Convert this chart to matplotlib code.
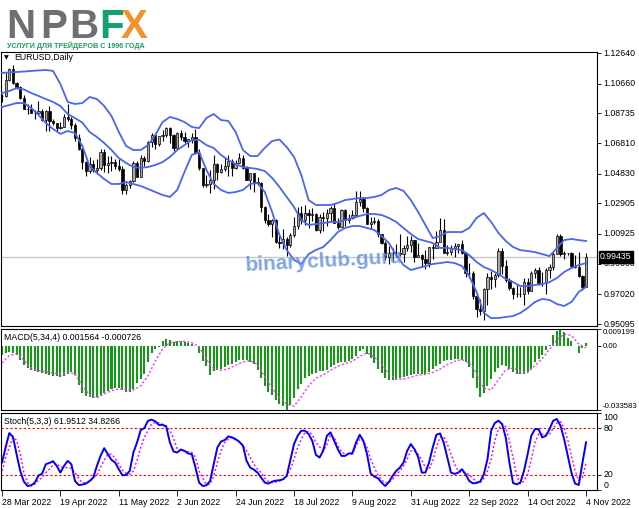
import matplotlib
matplotlib.use("Agg")  # no display in the sandbox
import matplotlib.pyplot as plt
import matplotlib.transforms as mtransforms
import numpy as np

plt.rcParams["font.family"] = ["Liberation Sans", "DejaVu Sans"]
FS = 6.3

# --- EURUSD daily candles, 28 Mar 2022 .. 4 Nov 2022 ---
OPEN = [
    1.0983, 1.0983, 1.1087, 1.1158, 1.1067, 1.1046, 1.0970, 1.0904,
    1.0901, 1.0878, 1.0877, 1.0887, 1.0829, 1.0891, 1.0827, 1.0809,
    1.0780, 1.0787, 1.0851, 1.0836, 1.0797, 1.0714, 1.0640, 1.0557,
    1.0498, 1.0545, 1.0504, 1.0521, 1.0620, 1.0541, 1.0551, 1.0561,
    1.0530, 1.0514, 1.0380, 1.0412, 1.0435, 1.0555, 1.0463, 1.0585,
    1.0563, 1.0689, 1.0735, 1.0677, 1.0725, 1.0733, 1.0780, 1.0733,
    1.0647, 1.0748, 1.0719, 1.0697, 1.0705, 1.0717, 1.0614, 1.0519,
    1.0409, 1.0416, 1.0443, 1.0545, 1.0495, 1.0512, 1.0532, 1.0567,
    1.0521, 1.0555, 1.0583, 1.0518, 1.0443, 1.0484, 1.0425, 1.0425,
    1.0265, 1.0184, 1.0160, 1.0184, 1.0038, 1.0036, 1.0062, 1.0019,
    1.0083, 1.0144, 1.0227, 1.0180, 1.0229, 1.0212, 1.0221, 1.0120,
    1.0200, 1.0196, 1.0225, 1.0260, 1.0164, 1.0140, 1.0247, 1.0182,
    1.0196, 1.0212, 1.0298, 1.0321, 1.0260, 1.0160, 1.0170, 1.0177,
    1.0089, 1.0037, 0.9941, 0.9966, 0.9970, 0.9972, 0.9965, 1.0003,
    1.0018, 1.0054, 0.9945, 0.9954, 0.9929, 0.9904, 1.0007, 1.0003,
    1.0042, 1.0121, 0.9969, 0.9977, 0.9999, 1.0017, 1.0027, 0.9970,
    0.9837, 0.9838, 0.9690, 0.9608, 0.9593, 0.9737, 0.9817, 0.9802,
    0.9824, 0.9985, 0.9884, 0.9792, 0.9741, 0.9702, 0.9703, 0.9706,
    0.9779, 0.9723, 0.9839, 0.9856, 0.9774, 0.9778, 0.9862, 0.9876,
    0.9965, 1.0079, 0.9965, 0.9966, 0.9966, 0.9884, 0.9876, 0.9819,
    0.9750,
]
HIGH = [
    1.1000, 1.1137, 1.1170, 1.1185, 1.1076, 1.1053, 1.0995, 1.0937,
    1.0936, 1.0893, 1.0953, 1.0900, 1.0898, 1.0923, 1.0838, 1.0814,
    1.0815, 1.0866, 1.0936, 1.0852, 1.0808, 1.0739, 1.0658, 1.0568,
    1.0592, 1.0573, 1.0575, 1.0642, 1.0641, 1.0600, 1.0594, 1.0581,
    1.0577, 1.0530, 1.0420, 1.0445, 1.0563, 1.0566, 1.0606, 1.0597,
    1.0697, 1.0749, 1.0737, 1.0729, 1.0765, 1.0787, 1.0786, 1.0738,
    1.0750, 1.0764, 1.0752, 1.0709, 1.0748, 1.0774, 1.0640, 1.0521,
    1.0471, 1.0505, 1.0601, 1.0554, 1.0545, 1.0583, 1.0605, 1.0578,
    1.0571, 1.0615, 1.0606, 1.0531, 1.0487, 1.0486, 1.0463, 1.0430,
    1.0276, 1.0223, 1.0188, 1.0188, 1.0097, 1.0122, 1.0070, 1.0097,
    1.0200, 1.0269, 1.0273, 1.0278, 1.0257, 1.0258, 1.0230, 1.0220,
    1.0235, 1.0254, 1.0274, 1.0293, 1.0196, 1.0254, 1.0253, 1.0223,
    1.0249, 1.0368, 1.0368, 1.0329, 1.0269, 1.0201, 1.0202, 1.0191,
    1.0095, 1.0047, 1.0017, 0.9999, 1.0029, 1.0090, 1.0019, 1.0079,
    1.0080, 1.0056, 1.0033, 0.9960, 0.9989, 1.0011, 1.0029, 1.0112,
    1.0198, 1.0187, 1.0019, 1.0018, 1.0037, 1.0028, 1.0051, 0.9976,
    0.9906, 0.9853, 0.9709, 0.9671, 0.9740, 0.9839, 0.9853, 0.9841,
    0.9999, 0.9999, 0.9921, 0.9808, 0.9748, 0.9759, 0.9746, 0.9808,
    0.9809, 0.9851, 0.9875, 0.9877, 0.9847, 0.9870, 0.9899, 0.9976,
    1.0094, 1.0089, 0.9979, 0.9972, 0.9977, 0.9954, 0.9976, 0.9828,
    0.9966,
]
LOW = [
    1.0945, 1.0982, 1.1080, 1.1063, 1.1028, 1.0967, 1.0902, 1.0871,
    1.0873, 1.0837, 1.0863, 1.0821, 1.0757, 1.0757, 1.0800, 1.0757,
    1.0771, 1.0785, 1.0826, 1.0771, 1.0697, 1.0636, 1.0516, 1.0470,
    1.0490, 1.0491, 1.0490, 1.0505, 1.0493, 1.0484, 1.0502, 1.0510,
    1.0503, 1.0350, 1.0349, 1.0389, 1.0431, 1.0459, 1.0461, 1.0532,
    1.0556, 1.0658, 1.0641, 1.0661, 1.0697, 1.0723, 1.0683, 1.0627,
    1.0641, 1.0703, 1.0684, 1.0654, 1.0680, 1.0612, 1.0507, 1.0398,
    1.0397, 1.0359, 1.0381, 1.0445, 1.0485, 1.0500, 1.0470, 1.0470,
    1.0516, 1.0549, 1.0510, 1.0439, 1.0382, 1.0366, 1.0409, 1.0236,
    1.0161, 1.0145, 1.0072, 1.0035, 0.9999, 0.9998, 0.9952, 1.0005,
    1.0073, 1.0125, 1.0154, 1.0153, 1.0130, 1.0175, 1.0110, 1.0097,
    1.0114, 1.0145, 1.0179, 1.0161, 1.0122, 1.0135, 1.0141, 1.0162,
    1.0190, 1.0202, 1.0272, 1.0235, 1.0155, 1.0122, 1.0159, 1.0074,
    1.0030, 0.9926, 0.9901, 0.9910, 0.9946, 0.9948, 0.9914, 0.9985,
    0.9976, 0.9910, 0.9943, 0.9877, 0.9864, 0.9877, 0.9929, 1.0000,
    1.0040, 0.9967, 0.9955, 0.9955, 0.9945, 0.9967, 0.9965, 0.9812,
    0.9808, 0.9669, 0.9552, 0.9571, 0.9536, 0.9635, 0.9738, 0.9751,
    0.9815, 0.9836, 0.9780, 0.9730, 0.9670, 0.9683, 0.9686, 0.9632,
    0.9707, 0.9720, 0.9808, 0.9760, 0.9753, 0.9705, 0.9807, 0.9856,
    0.9961, 0.9953, 0.9930, 0.9958, 0.9871, 0.9875, 0.9815, 0.9730,
    0.9746,
]
CLOSE = [
    1.0983, 1.1087, 1.1158, 1.1067, 1.1046, 1.0970, 1.0904, 1.0901,
    1.0878, 1.0877, 1.0887, 1.0829, 1.0891, 1.0827, 1.0809, 1.0780,
    1.0787, 1.0851, 1.0836, 1.0797, 1.0714, 1.0640, 1.0557, 1.0498,
    1.0545, 1.0504, 1.0521, 1.0620, 1.0541, 1.0551, 1.0561, 1.0530,
    1.0514, 1.0380, 1.0412, 1.0435, 1.0555, 1.0463, 1.0585, 1.0563,
    1.0689, 1.0735, 1.0677, 1.0725, 1.0733, 1.0780, 1.0733, 1.0647,
    1.0748, 1.0719, 1.0697, 1.0705, 1.0717, 1.0614, 1.0519, 1.0409,
    1.0416, 1.0443, 1.0545, 1.0495, 1.0512, 1.0532, 1.0567, 1.0521,
    1.0555, 1.0583, 1.0518, 1.0443, 1.0484, 1.0425, 1.0425, 1.0265,
    1.0184, 1.0160, 1.0184, 1.0038, 1.0036, 1.0062, 1.0019, 1.0083,
    1.0144, 1.0227, 1.0180, 1.0229, 1.0212, 1.0221, 1.0120, 1.0200,
    1.0196, 1.0225, 1.0260, 1.0164, 1.0140, 1.0247, 1.0182, 1.0196,
    1.0212, 1.0298, 1.0321, 1.0260, 1.0160, 1.0170, 1.0177, 1.0089,
    1.0037, 0.9941, 0.9966, 0.9970, 0.9972, 0.9965, 1.0003, 1.0018,
    1.0054, 0.9945, 0.9954, 0.9929, 0.9904, 1.0007, 1.0003, 1.0042,
    1.0121, 0.9969, 0.9977, 0.9999, 1.0017, 1.0027, 0.9970, 0.9837,
    0.9838, 0.9690, 0.9608, 0.9593, 0.9737, 0.9817, 0.9802, 0.9824,
    0.9985, 0.9884, 0.9792, 0.9741, 0.9702, 0.9703, 0.9706, 0.9779,
    0.9723, 0.9839, 0.9856, 0.9774, 0.9778, 0.9862, 0.9876, 0.9965,
    1.0079, 0.9965, 0.9966, 0.9966, 0.9884, 0.9876, 0.9819, 0.9750,
    0.99435,
]
LAST_PRICE = 0.99435

# Bollinger bands, read every second bar
BB_UPPER = [
    1.1135, 1.1138, 1.1141, 1.1144, 1.1148, 1.1151, 1.1154, 1.1148, 1.1063, 1.0947,
    1.0934, 1.0940, 1.0979, 1.0966, 1.0921, 1.0856, 1.0753, 1.0662, 1.0636, 1.0636,
    1.0668, 1.0733, 1.0817, 1.0850, 1.0837, 1.0817, 1.0785, 1.0778, 1.0843, 1.0869,
    1.0830, 1.0824, 1.0753, 1.0636, 1.0597, 1.0597, 1.0650, 1.0694, 1.0704, 1.0655,
    1.0591, 1.0474, 1.0312, 1.0280, 1.0280, 1.0280, 1.0293, 1.0312, 1.0319, 1.0325,
    1.0325, 1.0332, 1.0345, 1.0377, 1.0390, 1.0371, 1.0312, 1.0235, 1.0150, 1.0066,
    1.0079, 1.0105, 1.0105, 1.0105, 1.0131, 1.0196, 1.0228, 1.0170, 1.0099, 1.0047,
    1.0008, 0.9988, 0.9982, 0.9975, 0.9962, 0.9949, 1.0001, 1.0053, 1.0060, 1.0053,
    1.0047,
]
BB_MID = [
    1.1005, 1.1018, 1.1037, 1.1028, 1.1005, 1.0986, 1.0966, 1.0947, 1.0921, 1.0869,
    1.0843, 1.0814, 1.0753, 1.0720, 1.0681, 1.0636, 1.0584, 1.0552, 1.0526, 1.0520,
    1.0526, 1.0539, 1.0558, 1.0591, 1.0636, 1.0668, 1.0701, 1.0701, 1.0668, 1.0649,
    1.0604, 1.0571, 1.0545, 1.0526, 1.0520, 1.0513, 1.0500, 1.0455, 1.0397, 1.0332,
    1.0267, 1.0183, 1.0150, 1.0157, 1.0163, 1.0170, 1.0170, 1.0183, 1.0196, 1.0209,
    1.0222, 1.0222, 1.0215, 1.0196, 1.0170, 1.0131, 1.0092, 1.0060, 1.0047, 1.0034,
    1.0002, 1.0002, 0.9995, 0.9988, 0.9956, 0.9911, 0.9878, 0.9859, 0.9833, 0.9801,
    0.9781, 0.9755, 0.9755, 0.9762, 0.9768, 0.9781, 0.9807, 0.9846, 0.9872, 0.9891,
    0.9904,
]
BB_LOWER = [
    1.0914, 1.0927, 1.0940, 1.0940, 1.0908, 1.0863, 1.0811, 1.0772, 1.0740, 1.0759,
    1.0746, 1.0662, 1.0532, 1.0487, 1.0448, 1.0416, 1.0416, 1.0429, 1.0416, 1.0403,
    1.0384, 1.0364, 1.0345, 1.0332, 1.0377, 1.0494, 1.0604, 1.0623, 1.0507, 1.0416,
    1.0377, 1.0358, 1.0364, 1.0377, 1.0416, 1.0422, 1.0364, 1.0235, 1.0086, 0.9989,
    0.9924, 0.9898, 0.9962, 0.9989, 1.0008, 1.0053, 1.0105, 1.0131, 1.0144, 1.0144,
    1.0131, 1.0118, 1.0079, 1.0034, 0.9956, 0.9891, 0.9859, 0.9872, 0.9885, 0.9898,
    0.9904, 0.9911, 0.9904, 0.9885, 0.9820, 0.9717, 0.9581, 0.9548, 0.9548, 0.9555,
    0.9561, 0.9581, 0.9613, 0.9652, 0.9672, 0.9665, 0.9639, 0.9626, 0.9652, 0.9717,
    0.9749,
]

# MACD(5,34,4): histogram per bar, signal every second bar
MACD_HIST = [
    -0.00428, -0.00339, -0.00303, -0.00339, -0.00428, -0.00695, -0.00963, -0.01141,
    -0.01230, -0.01319, -0.01373, -0.01409, -0.01480, -0.01533, -0.01551, -0.01587,
    -0.01623, -0.01551, -0.01444, -0.01373, -0.01498, -0.02033, -0.02478, -0.02621,
    -0.02692, -0.02746, -0.02657, -0.02568, -0.02443, -0.02336, -0.02264, -0.02211,
    -0.02211, -0.02300, -0.02407, -0.02389, -0.02229, -0.01943, -0.01730, -0.01444,
    -0.00838, -0.00339, -0.00160, -0.00036, 0.00285, 0.00410, 0.00339, 0.00232,
    0.00303, 0.00267, 0.00232, 0.00196, 0.00143, 0.00018, -0.00339, -0.00785,
    -0.01052, -0.01498, -0.01319, -0.01230, -0.01177, -0.01105, -0.00998, -0.00909,
    -0.00802, -0.00731, -0.00695, -0.00731, -0.00802, -0.00909, -0.01266, -0.01676,
    -0.02086, -0.02389, -0.02568, -0.02835, -0.03049, -0.03156, -0.03358, -0.03102,
    -0.02746, -0.02264, -0.01979, -0.01676, -0.01551, -0.01480, -0.01409, -0.01319,
    -0.01284, -0.01230, -0.01105, -0.00963, -0.00874, -0.00820, -0.00802, -0.00767,
    -0.00642, -0.00481, -0.00267, -0.00160, -0.00392, -0.00624, -0.00874, -0.01177,
    -0.01409, -0.01676, -0.01765, -0.01765, -0.01765, -0.01694, -0.01623, -0.01551,
    -0.01498, -0.01462, -0.01444, -0.01480, -0.01444, -0.01337, -0.01195, -0.01052,
    -0.00909, -0.00785, -0.00713, -0.00695, -0.00660, -0.00660, -0.00695, -0.00838,
    -0.01088, -0.01676, -0.02211, -0.02692, -0.02478, -0.02086, -0.01730, -0.01337,
    -0.01141, -0.00963, -0.01016, -0.01195, -0.01373, -0.01444, -0.01444, -0.01444,
    -0.01355, -0.01195, -0.00838, -0.00660, -0.00464, -0.00196, 0.00089, 0.00588,
    0.00820, 0.00920, 0.00770, 0.00460, 0.00285, 0.00018, -0.00339, -0.00070,
    0.00156,
]
MACD_SIGNAL = [
    -0.00874, -0.00481, -0.00392, -0.00731, -0.01141, -0.01266, -0.01337, -0.01409, -0.01444, -0.01373,
    -0.01444, -0.02086, -0.02568, -0.02710, -0.02514, -0.02336, -0.02247, -0.02264, -0.02300, -0.02086,
    -0.01551, -0.00785, -0.00125, 0.00196, 0.00250, 0.00267, 0.00196, -0.00018, -0.00695, -0.01177,
    -0.01266, -0.01177, -0.00998, -0.00820, -0.00749, -0.00963, -0.01587, -0.02211, -0.02692, -0.03049,
    -0.03156, -0.02657, -0.02086, -0.01676, -0.01498, -0.01266, -0.01052, -0.00909, -0.00785, -0.00517,
    -0.00339, -0.00553, -0.00963, -0.01444, -0.01730, -0.01730, -0.01623, -0.01516, -0.01480, -0.01373,
    -0.01195, -0.00963, -0.00785, -0.00695, -0.00874, -0.01409, -0.02211, -0.02300, -0.01765, -0.01230,
    -0.01141, -0.01319, -0.01373, -0.01000, -0.00650, -0.00150, 0.00350, 0.00650, 0.00580, 0.00120,
    -0.00073,
]
MACD_MAX, MACD_MIN = 0.009199, -0.033583

# Stochastic(5,3,3) main and signal per bar
STOCH_MAIN = [
    35.7, 55.2, 73.9, 69.1, 46.5, 24.8, 10.9, 5.2,
    6.1, 9.6, 18.7, 21.3, 33.5, 35.2, 37.4, 31.3,
    22.6, 31.3, 37.8, 33.5, 11.7, 6.5, 7.0, 8.3,
    11.7, 16.1, 31.3, 44.3, 54.3, 46.5, 39.1, 35.7,
    27.0, 19.1, 19.6, 24.8, 48.7, 61.7, 77.8, 80.4,
    90.0, 91.3, 89.1, 84.4, 84.8, 82.2, 61.7, 50.0,
    48.7, 52.6, 50.9, 47.4, 46.5, 29.1, 9.6, 5.2,
    6.1, 11.7, 33.5, 55.2, 63.0, 64.8, 69.6, 68.3,
    66.1, 62.6, 57.8, 37.8, 29.1, 26.5, 22.6, 16.1,
    9.6, 8.3, 10.9, 12.2, 12.6, 13.9, 18.3, 38.7,
    59.6, 70.4, 77.0, 77.0, 72.6, 63.9, 45.6, 42.2,
    50.9, 70.4, 74.8, 63.9, 53.0, 44.3, 44.3, 47.4,
    47.8, 61.7, 71.7, 63.9, 46.5, 21.3, 17.4, 15.2,
    9.6, 5.2, 10.4, 18.3, 24.8, 29.1, 35.7, 50.9,
    59.6, 53.0, 43.0, 22.6, 22.6, 35.7, 55.2, 71.7,
    73.5, 61.7, 42.2, 22.6, 20.9, 22.6, 27.0, 20.4,
    11.7, 8.7, 9.1, 10.9, 20.4, 40.0, 77.0, 87.0,
    90.0, 85.7, 68.3, 35.7, 9.1, 7.4, 9.6, 24.8,
    46.5, 70.4, 79.1, 79.1, 68.3, 70.4, 79.1, 90.0,
    92.2, 83.5, 66.1, 44.3, 22.6, 8.3, 6.5, 35.0,
    61.95,
]
STOCH_SIGNAL = [
    24.8, 42.2, 55.2, 68.3, 64.8, 46.5, 22.6, 9.6,
    5.2, 7.4, 12.6, 16.1, 22.6, 27.0, 32.6, 34.3,
    30.0, 29.1, 29.1, 28.3, 22.6, 15.2, 9.6, 9.1,
    10.9, 15.2, 19.6, 29.1, 38.7, 46.5, 46.5, 41.3,
    33.5, 25.7, 21.7, 20.4, 24.8, 38.7, 55.2, 68.3,
    77.0, 85.7, 87.8, 87.4, 84.8, 83.5, 77.0, 67.0,
    53.0, 50.9, 50.9, 49.6, 48.7, 42.2, 24.8, 15.2,
    7.4, 7.4, 18.3, 35.7, 50.9, 61.7, 66.1, 68.3,
    64.8, 63.0, 57.4, 50.9, 42.2, 33.5, 27.0, 22.6,
    15.2, 10.9, 9.6, 10.4, 11.7, 13.9, 18.3, 27.0,
    40.0, 55.2, 66.1, 74.8, 76.1, 71.7, 61.7, 56.1,
    50.9, 58.7, 71.7, 68.3, 57.4, 49.6, 46.5, 46.5,
    46.5, 57.4, 66.1, 63.9, 55.2, 40.0, 29.1, 19.6,
    12.6, 9.6, 9.6, 13.9, 19.6, 24.8, 31.3, 40.0,
    50.9, 50.9, 46.5, 38.7, 29.1, 27.0, 37.8, 55.2,
    68.3, 69.1, 59.6, 46.5, 33.5, 24.8, 22.6, 22.6,
    19.6, 15.2, 10.4, 9.6, 15.2, 24.8, 40.0, 63.9,
    79.1, 85.7, 82.2, 63.9, 42.2, 18.3, 8.3, 11.7,
    20.4, 40.0, 61.7, 72.6, 72.6, 71.3, 72.6, 79.8,
    87.1, 88.6, 80.6, 64.6, 44.3, 25.0, 12.5, 16.6,
    34.83,
]
STOCH_LEVELS = [20, 80]

PRICE_TICKS = [1.12640, 1.10660, 1.08735, 1.06810, 1.04830,
               1.02905, 1.00925, 0.99000, 0.97020, 0.95095]
DATE_LABELS = ["28 Mar 2022", "19 Apr 2022", "11 May 2022", "2 Jun 2022",
               "24 Jun 2022", "18 Jul 2022", "9 Aug 2022", "31 Aug 2022",
               "22 Sep 2022", "14 Oct 2022", "4 Nov 2022"]
DATE_STEP = 16  # one label every 16 bars

W, H = 639, 508


def box(x0, y0, x1, y1):
    """pixel box (origin top-left) -> figure rect"""
    return [x0 / W, 1 - y1 / H, (x1 - x0) / W, (y1 - y0) / H]


def right_labels(ax, ticks, labels, vas, size=FS, pad=1.5):
    ax.yaxis.tick_right()
    ax.set_yticks(ticks)
    ax.set_yticklabels(labels)
    ax.tick_params(axis="y", length=3, width=0.6, pad=pad, labelsize=size)
    for t, va in zip(ax.yaxis.get_major_ticks(), vas):
        t.label2.set_va(va)


fig = plt.figure(figsize=(W / 100, H / 100), dpi=100)
ax_p = fig.add_axes(box(1, 52, 597, 326))
ax_m = fig.add_axes(box(1, 329, 597, 410), sharex=ax_p)
ax_s = fig.add_axes(box(1, 413, 597, 490), sharex=ax_p)

idx = np.arange(len(CLOSE))
o, h, l, c = (np.array(a) for a in (OPEN, HIGH, LOW, CLOSE))
bull = c >= o
bx = np.arange(0, len(CLOSE), 2)

# price panel
ax_p.axhline(LAST_PRICE, color="#c8c8c8", lw=1.0, zorder=0)
ax_p.vlines(idx, l, h, color="black", lw=0.8, zorder=2)
ax_p.bar(idx, np.maximum(np.abs(c - o), 0.00012), bottom=np.minimum(o, c),
         width=0.62, color=np.where(bull, "#a8a8a8", "black"),
         edgecolor="black", linewidth=0.5, zorder=3)
for band in (BB_UPPER, BB_MID, BB_LOWER):
    ax_p.plot(bx, band, color="#4a66ee", lw=1.3, zorder=4)
ax_p.set_ylim(0.94966, 1.12705)
right_labels(ax_p, PRICE_TICKS, [f"{v:.5f}" for v in PRICE_TICKS],
             ["center"] * len(PRICE_TICKS))
trans = mtransforms.blended_transform_factory(ax_p.transAxes, ax_p.transData)
ax_p.text(1.005, LAST_PRICE, f"{LAST_PRICE:.5f}", transform=trans, ha="left",
          va="center", color="white", fontsize=FS, clip_on=False, zorder=10,
          bbox=dict(boxstyle="square,pad=0.12", fc="black", ec="black"))

# MACD panel
ax_m.bar(idx, MACD_HIST, width=0.55, color="#109c10", linewidth=0)
ax_m.plot(bx, MACD_SIGNAL, color="#ff33ff", lw=1.0, ls=(0, (1.5, 1.5)))
ax_m.set_ylim(MACD_MIN, MACD_MAX)
right_labels(ax_m, [MACD_MAX, 0.0, MACD_MIN],
             [f"{MACD_MAX:.6f}", "0.00", f"{MACD_MIN:.6f}"],
             ["top", "center", "bottom"], size=5.6, pad=1.0)

# Stochastic panel
for lv in STOCH_LEVELS:
    ax_s.axhline(lv, color="#ff0000", lw=0.8, ls=(0, (2, 2)))
ax_s.plot(idx, STOCH_SIGNAL, color="#ff00ff", lw=1.0, ls=(0, (1.5, 1.5)))
ax_s.plot(idx, STOCH_MAIN, color="#0000ff", lw=1.4)
ax_s.set_ylim(0, 100)
right_labels(ax_s, [100, 80, 20, 0], ["100", "80", "20", "0"],
             ["top", "center", "center", "bottom"])

ax_p.set_xlim(-0.27, 163.0)
date_pos = np.arange(len(DATE_LABELS)) * DATE_STEP
ax_s.set_xticks(date_pos)
ax_s.set_xticklabels(DATE_LABELS, ha="left")

for ax in (ax_p, ax_m, ax_s):
    for s in ax.spines.values():
        s.set_linewidth(0.8)
        s.set_color("black")
for ax in (ax_p, ax_m):
    ax.tick_params(axis="x", bottom=False, labelbottom=False)
ax_s.tick_params(axis="x", length=4, width=0.6, pad=1.5, labelsize=FS)

# panel captions
fig.text(4 / W, 1 - 58 / H, "\u25BC", fontsize=4.5, va="center", family="DejaVu Sans")
fig.text(14 / W, 1 - 58 / H, "EURUSD,Daily", fontsize=FS, va="center")
fig.text(4 / W, 1 - 337 / H, "MACD(5,34,4) 0.001564 -0.000726", fontsize=FS, va="center")
fig.text(4 / W, 1 - 421 / H, "Stoch(5,3,3) 61.9512 34.8266", fontsize=FS, va="center")

# logo
for ch, x0, col in (("N", 6, "#6e6f71"), ("P", 40, "#6e6f71"), ("B", 69, "#6e6f71"),
                    ("F", 99, "#17a06f"), ("X", 121, "#f3922b")):
    fig.text(x0 / W, 1 - 38 / H, ch, fontsize=29, fontweight="bold",
             color=col, va="baseline")
fig.text(7 / W, 1 - 47.5 / H, "УСЛУГИ ДЛЯ ТРЕЙДЕРОВ С 1996 ГОДА", fontsize=5.1,
         fontweight="bold", color="#1e9a5c", va="baseline")

# watermark
fig.text(324 / W, 1 - 261 / H, "binaryclub.guru", fontsize=15, fontweight="bold",
         color="#6a96de", alpha=0.85, rotation=3, ha="center", va="center",
         rotation_mode="anchor", zorder=10)

fig.savefig("out.png", dpi=100)
